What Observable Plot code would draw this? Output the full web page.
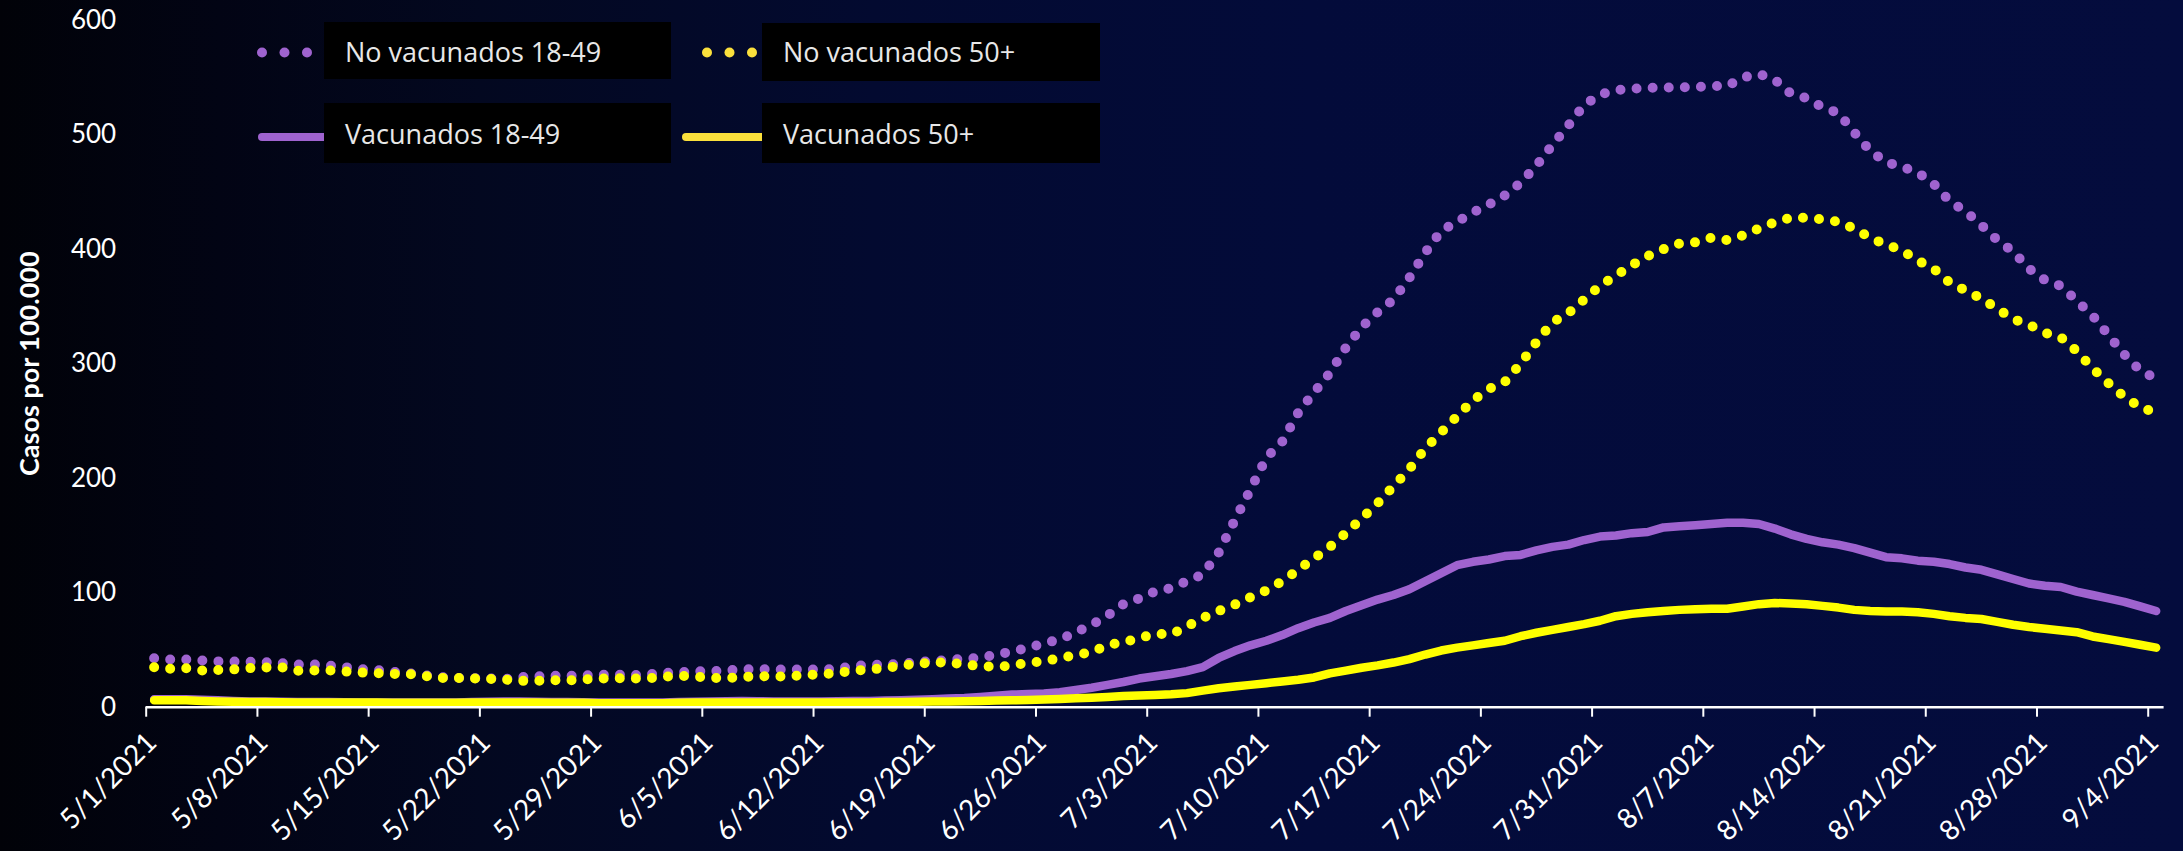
<!DOCTYPE html>
<html><head><meta charset="utf-8">
<script src="https://cdn.jsdelivr.net/npm/d3@7"></script>
<script src="https://cdn.jsdelivr.net/npm/@observablehq/plot@0.6"></script>
<style>
html,body{margin:0;padding:0;}
body{width:2183px;height:851px;overflow:hidden;background:linear-gradient(to right,#010208 0%,#020414 10%,#030820 22%,#030a30 40%,#030b3a 60%,#040c3d 100%);}
svg{display:block;}
</style></head><body>
<div id="chart"></div>
<script>
// ---- data (daily, 5/1/2021 .. 9/4/2021) ----
const startDay = "2021-05-01";
const endDay = "2021-09-05"; // exclusive edge of the axis
const seriesNames = ["No vacunados 18-49", "No vacunados 50+", "Vacunados 18-49", "Vacunados 50+"];
const noVac1849 = [42.8,41.7,41.7,40.8,40,40,39.7,39.4,38.5,37.3,
  37.3,36.4,35,33.2,32.6,30.9,29.7,28,26.2,25.6,
  25.4,
  25.3,24.5,26.2,26.8,27.4,27.4,27.7,28.3,28.6,28,
  28.6,29.7,30.6,31.2,31.5,32,33,33.3,33,33,
  33,
  32.9,33.5,35.8,37,37,37.9,39.4,40.2,41.4,42.3,
  43.1,46,48.6,51.8,55.9,59.1,65.5,71.9,80,90,
  95,101,104,110,116,135,163,190,218,232,
  257,275,292,314,332,345,356,375,397,416,
  424,432,439,447,458,473,491,508,526,535,
  539,540,541,541,541.5,541.5,542.5,542.5,550,553,
  548,536,532,524,519,502,486,476,472,467,
  457,442,433,421,408,398,383,373,368,355,
  342,325,308,294,287];
const noVac50 = [34.9,33.5,34.1,32.1,32.4,33,34.1,34.6,34.9,31.8,
  32.1,32.1,31.2,30.3,29.7,29.1,29.1,27.4,25.6,25.6,
  25.2,
  24.8,24.2,23,23,23.6,23.3,24.2,25,25.3,25,
  25,26.5,27.4,26.8,25.6,25.3,26.2,27.4,26.5,27.1,
  28,
  28.6,29.8,32.1,32.7,34.4,36.1,38,38.8,39.4,37,
  36.1,35,36.4,38.8,40,42.9,45.5,48.1,54.2,56.8,
  60.3,64.1,63.5,70.5,78,84,89.5,96,102,110,
  120,130,140,152,165,178,193,208,226,240,
  254,268,278,284,300,319,336,344,356,368,
  377,386,394,400,405,406,410,408,412,418,
  423.5,427.5,427.5,426,424,418,410,404,399,390,
  383,371,364,357,348,339,334,327,323,311,
  296,283,271,262,257];
const vac1849 = [7,7,7,6.5,6,5.5,5,5,4.8,4.5,
  4.5,4.5,4.3,4.2,4,4,4,4,4,4.2,
  4.5,4.8,5,5,4.8,4.5,4.5,4.3,4.2,4,
  4,4,4.2,4.5,4.8,5,5.2,5.5,5.2,5,
  5,5,5,5.2,5.5,5.5,5.8,6,6.5,7,
  7.5,8,9,10,11,11.5,12,13,15,17,
  19.5,22,25,27,29,31.5,35,43,49,54,
  58,63,69,74,78,84,89,94,98,103,
  110,117,124,127,129,132,133,137,140,142,
  146,149,150,152,153,157,158,159,160,161,
  161,160,156,151,147,144,142,139,135,131,
  130,128,127,125,122,120,116,112,108,106,
  105,101,98,95,92,88,84];
const vac50 = [6,6,6,5.5,5,4.8,4.5,4.5,4.3,4.2,
  4,4,4,4,4,3.8,3.8,3.8,3.8,3.8,
  4,4,4,4,4,3.8,3.8,3.8,3.5,3.5,
  3.5,3.5,3.5,3.8,4,4,4,4.2,4.2,4,
  4,4,4,4,4.2,4.2,4.5,4.5,4.8,5,
  5,5.2,5.5,5.8,6,6.3,6.8,7.2,7.8,8.3,
  9,9.7,10.2,10.7,11.3,12.3,14.5,16.5,18,19.5,
  21,22.5,24,26,29.5,32,34.5,36.5,39,42,
  46,49.5,52,54,56,58,62,65,67.5,70,
  72.5,75.5,79.5,81.5,83,84,85,85.5,86,86,
  88,90,91,90.5,90,88.5,87,85,84,83.5,
  83.5,83,81.5,79.5,78,77,74.5,72,70,68.5,
  67,65.5,61.8,59.5,57,54.5,52];
const xTickLabels = ["5/1/2021","5/8/2021","5/15/2021","5/22/2021","5/29/2021","6/5/2021","6/12/2021",
  "6/19/2021","6/26/2021","7/3/2021","7/10/2021","7/17/2021","7/24/2021","7/31/2021","8/7/2021",
  "8/14/2021","8/21/2021","8/28/2021","9/4/2021"];
const yTicks = [0,100,200,300,400,500,600];
const yTitle = "Casos por 100.000";

// ---- styling ----
const PURPLE = "#9f63cf";
const YELLOW = "#ffff00";
const LEG_YELLOW = "#fbe03c";

const parseDay = d3.utcParse("%Y-%m-%d");
const parseTick = d3.utcParse("%m/%d/%Y");
const x0 = parseDay(startDay), x1 = parseDay(endDay);
const days = d3.utcDay.range(x0, x1);
const mid = d => d3.utcHour.offset(d, 12);
const rows = vals => vals.map((v, i) => ({date: mid(days[i]), v}));
const tickDates = xTickLabels.map(parseTick);
const labelMap = new Map(tickDates.map((d, i) => [+d, xTickLabels[i]]));

const dotted = {strokeWidth: 10, strokeDasharray: "0 16.1", strokeLinecap: "round", strokeLinejoin: "round"};
const solid = {strokeWidth: 8.5, strokeLinecap: "round", strokeLinejoin: "round"};

const plot = Plot.plot({
  width: 2183, height: 851,
  marginLeft: 145.7, marginRight: 19.4, marginTop: 19.7, marginBottom: 144.3,
  style: {background: "transparent", color: "white", fontFamily: "Lato, sans-serif", fontSize: "26px", overflow: "visible"},
  x: {type: "utc", domain: [x0, x1]},
  y: {domain: [0, 600]},
  marks: [
    Plot.line(rows(noVac1849), {x: "date", y: "v", stroke: PURPLE, ...dotted}),
    Plot.line(rows(noVac50), {x: "date", y: "v", stroke: YELLOW, ...dotted}),
    Plot.line(rows(vac1849), {x: "date", y: "v", stroke: PURPLE, ...solid}),
    Plot.line(rows(vac50), {x: "date", y: "v", stroke: YELLOW, ...solid}),
    Plot.ruleY([0], {stroke: "white", strokeWidth: 2.5}),
    Plot.axisX({ticks: tickDates, tickFormat: () => "", tickSize: 10, strokeWidth: 2, label: null}),
    Plot.text(tickDates, {x: d => d, text: d => labelMap.get(+d), frameAnchor: "bottom", rotate: -45,
      textAnchor: "end", lineAnchor: "top", dx: -2, dy: 23, fontSize: 28, fill: "white"}),
    Plot.axisY({ticks: yTicks, tickSize: 0, tickPadding: 30, fontSize: 26, label: null}),
    Plot.text([yTitle], {frameAnchor: "left", textAnchor: "middle", dx: -116, rotate: -90, fontWeight: "bold", fontSize: 27, fill: "white"})
  ]
});
document.getElementById("chart").appendChild(plot);

// ---- legend (overlay inside the svg) ----
const svg = d3.select(plot);
const lg = svg.append("g").attr("text-anchor", "start");
[[262, 284.5, 307], [707, 729.5, 752]].forEach((xs, k) => {
  xs.forEach(cx => lg.append("circle").attr("cx", cx).attr("cy", 52.5).attr("r", 5)
    .attr("fill", k === 0 ? PURPLE : LEG_YELLOW));
});
lg.append("line").attr("x1", 262).attr("x2", 330).attr("y1", 137).attr("y2", 137)
  .attr("stroke", PURPLE).attr("stroke-width", 8).attr("stroke-linecap", "round");
lg.append("line").attr("x1", 686).attr("x2", 768).attr("y1", 137).attr("y2", 137)
  .attr("stroke", LEG_YELLOW).attr("stroke-width", 8).attr("stroke-linecap", "round");
const boxes = [
  {x: 324, y: 22, w: 347, h: 57, tx: 345, ty: 62},
  {x: 762, y: 23, w: 338, h: 58, tx: 783, ty: 62},
  {x: 324, y: 103, w: 347, h: 60, tx: 345, ty: 144},
  {x: 762, y: 103, w: 338, h: 60, tx: 783, ty: 144}
];
boxes.forEach((b, i) => {
  lg.append("rect").attr("x", b.x).attr("y", b.y).attr("width", b.w).attr("height", b.h).attr("fill", "#000");
  lg.append("text").attr("x", b.tx).attr("y", b.ty).text(seriesNames[i])
    .attr("text-anchor", "start")
    .attr("fill", "#e8e8e8").attr("font-family", "'Open Sans', sans-serif").attr("font-size", 27);
});
</script></body></html>
